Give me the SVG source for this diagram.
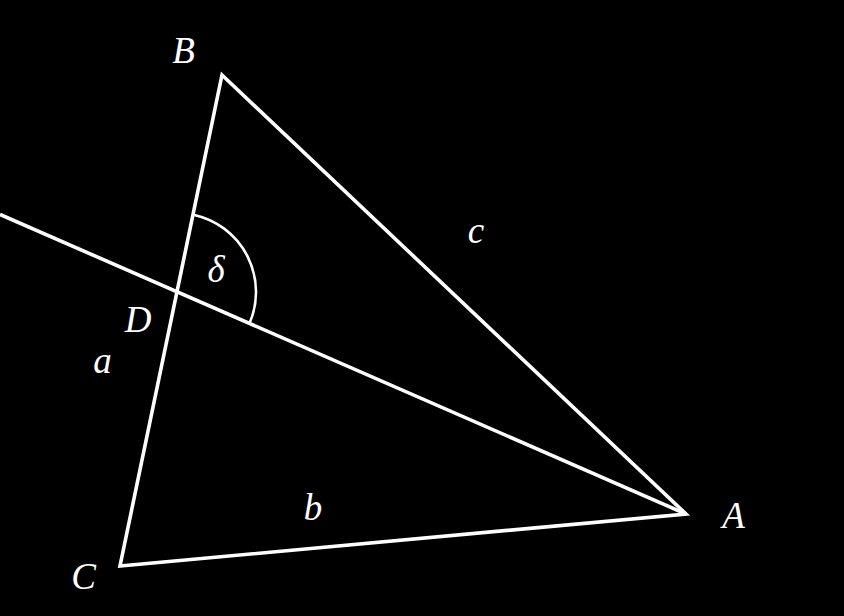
<svg xmlns="http://www.w3.org/2000/svg" width="844" height="616" viewBox="0 0 844 616">
<style>
.ln{fill:none;stroke:#fff;stroke-width:3.6;stroke-linejoin:miter}
.arc{fill:none;stroke:#fff;stroke-width:2.6}
.lb{fill:#fff;font-family:"Liberation Serif","DejaVu Serif",serif;font-style:italic;font-size:37px;text-anchor:middle}
</style>
<rect width="844" height="616" fill="#000"/>
<g id="connectors">
<polygon class="ln" points="222,75 686,514 120,566"/>
<line class="ln" x1="0" y1="214.5" x2="686" y2="514"/>
<path class="arc" d="M194.4,214.9 A79,79 0 0 1 249.4,323.6"/>
</g>
<g id="B"><text class="lb" x="183.5" y="63">B</text></g>
<g id="A"><text class="lb" x="733.5" y="528">A</text></g>
<g id="C"><text class="lb" x="83.5" y="589">C</text></g>
<g id="D"><text class="lb" x="138" y="332">D</text></g>
<g id="la"><text class="lb" x="102.5" y="373">a</text></g>
<g id="lb"><text class="lb" x="313" y="520">b</text></g>
<g id="lc"><text class="lb" x="476" y="243">c</text></g>
<g id="delta"><text class="lb" x="216" y="282">δ</text></g>
</svg>
